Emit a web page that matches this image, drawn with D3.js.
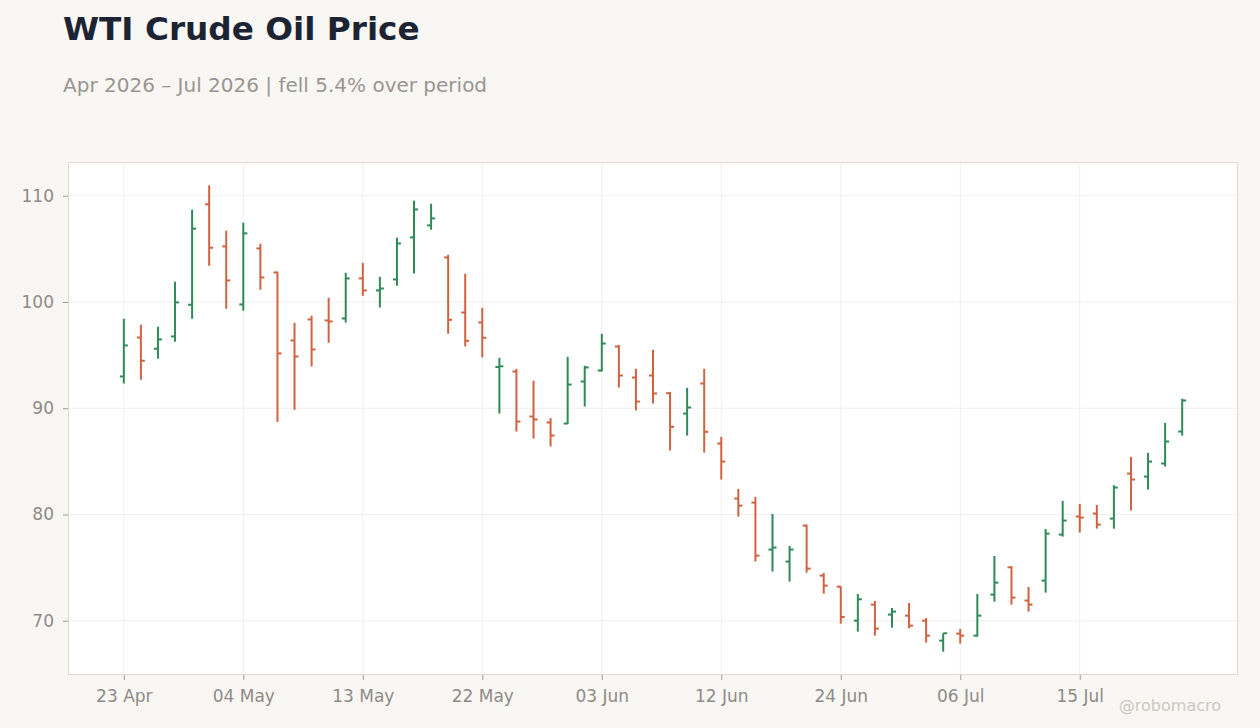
<!DOCTYPE html>
<html>
<head>
<meta charset="utf-8">
<script src="https://cdn.jsdelivr.net/npm/d3@7"></script>
<style>
  html, body { margin: 0; padding: 0; background: #f8f7f4; }
  svg { display: block; font-family: "DejaVu Sans", sans-serif; }
</style>
</head>
<body>
<svg id="chart" width="1260" height="728"></svg>
<script>
// ---- Data ----
const dates = [
  "2026-04-23","2026-04-24","2026-04-27","2026-04-28","2026-04-29","2026-04-30",
  "2026-05-01","2026-05-04","2026-05-05","2026-05-06","2026-05-07","2026-05-08",
  "2026-05-11","2026-05-12","2026-05-13","2026-05-14","2026-05-15","2026-05-18",
  "2026-05-19","2026-05-20","2026-05-21","2026-05-22","2026-05-26","2026-05-27",
  "2026-05-28","2026-05-29","2026-06-01","2026-06-02","2026-06-03","2026-06-04",
  "2026-06-05","2026-06-08","2026-06-09","2026-06-10","2026-06-11","2026-06-12",
  "2026-06-15","2026-06-16","2026-06-17","2026-06-18","2026-06-22","2026-06-23",
  "2026-06-24","2026-06-25","2026-06-26","2026-06-29","2026-06-30","2026-07-01",
  "2026-07-02","2026-07-06","2026-07-07","2026-07-08","2026-07-09","2026-07-10",
  "2026-07-13","2026-07-14","2026-07-15","2026-07-16","2026-07-17","2026-07-20",
  "2026-07-21","2026-07-22","2026-07-23"
];
const openVals = [
  92.99, 96.66, 95.60, 96.76, 99.74, 109.19, 105.23, 99.77, 105.04, 102.78,
  96.38, 98.36, 98.26, 98.45, 102.22, 101.09, 102.12, 106.08, 107.21, 104.19,
  99.01, 98.07, 93.88, 93.46, 89.22, 88.66, 88.56, 92.52, 93.55, 95.81,
  92.89, 93.08, 91.42, 89.50, 92.33, 86.68, 81.50, 81.12, 76.70, 75.57,
  78.96, 74.25, 73.21, 70.01, 71.52, 70.58, 70.48, 70.01, 68.13, 68.79,
  68.60, 72.46, 75.03, 71.90, 73.78, 78.11, 79.81, 80.09, 79.62, 83.85,
  83.57, 84.80, 87.81
];
const highVals = [
  98.42, 97.86, 97.67, 101.91, 108.69, 110.98, 106.71, 107.46, 105.48, 102.85,
  98.04, 98.70, 100.40, 102.75, 103.69, 102.37, 106.05, 109.53, 109.25, 104.44,
  102.66, 99.45, 94.75, 93.71, 92.58, 89.07, 94.84, 94.00, 97.01, 95.94,
  93.71, 95.50, 91.54, 91.92, 93.71, 87.31, 82.41, 81.66, 80.05, 77.04,
  79.05, 74.50, 73.24, 72.52, 71.86, 71.20, 71.68, 70.26, 68.82, 69.23,
  72.52, 76.10, 75.14, 73.18, 78.64, 81.28, 81.00, 80.90, 82.76, 85.42,
  85.80, 88.62, 90.89
];
const lowVals = [
  92.33, 92.68, 94.66, 96.26, 98.42, 103.41, 99.36, 99.17, 101.15, 88.72,
  89.85, 93.93, 96.16, 98.07, 100.58, 99.48, 101.53, 102.69, 106.80, 97.01,
  95.81, 94.78, 89.50, 87.81, 87.15, 86.40, 88.53, 90.16, 93.46, 91.95,
  89.79, 90.44, 86.02, 87.43, 85.83, 83.29, 79.80, 75.57, 74.63, 73.68,
  74.53, 72.55, 69.73, 68.98, 68.60, 69.35, 69.29, 67.94, 67.09, 67.85,
  68.51, 71.80, 71.52, 70.86, 72.65, 77.92, 78.30, 78.67, 78.67, 80.37,
  82.35, 84.51, 87.43
];
const closeVals = [
  95.91, 94.47, 96.48, 99.96, 106.90, 105.11, 102.03, 106.46, 102.31, 95.16,
  94.87, 95.53, 98.17, 102.22, 101.09, 101.27, 105.51, 108.71, 107.87, 98.32,
  96.35, 96.63, 93.95, 88.75, 88.94, 87.43, 92.23, 93.84, 96.09, 93.08,
  90.63, 91.39, 88.25, 90.07, 87.78, 84.98, 80.84, 76.13, 76.89, 76.70,
  74.91, 73.31, 70.36, 72.02, 69.26, 70.86, 69.54, 68.60, 68.82, 68.60,
  70.48, 73.59, 72.18, 71.52, 78.20, 79.43, 79.71, 79.05, 82.54, 83.29,
  84.98, 86.87, 90.73
];
const yTickValues = [70, 80, 90, 100, 110];
const xTickEvery = 7;

const titleText = "WTI Crude Oil Price";
const subtitleText = "Apr 2026 \u2013 Jul 2026 | fell 5.4% over period";
const creditText = "@robomacro";

// ---- Build rows ----
const parse = d3.timeParse("%Y-%m-%d");
const fmt = d3.timeFormat("%d %b");
const rows = dates.map((d, i) => ({
  date: d, o: openVals[i], h: highVals[i], l: lowVals[i], c: closeVals[i]
}));

// ---- Layout ----
const W = 1260, H = 728;
const plot = { left: 68, right: 1238, top: 162, bottom: 675 };
const upColor = "#2e8b57", downColor = "#d0623f";

const svg = d3.select("#chart");
svg.append("rect").attr("width", W).attr("height", H).attr("fill", "#f8f7f4");

const x = d3.scalePoint().domain(dates).range([plot.left, plot.right]).padding(3.27);
const lo = d3.min(lowVals), hi = d3.max(highVals), pad = (hi - lo) * 0.05;
const y = d3.scaleLinear().domain([lo - pad, hi + pad]).range([plot.bottom, plot.top]);

// plot background
svg.append("rect")
  .attr("x", plot.left).attr("y", plot.top)
  .attr("width", plot.right - plot.left).attr("height", plot.bottom - plot.top)
  .attr("fill", "#ffffff");

const xTicks = dates.filter((d, i) => i % xTickEvery === 0);

// grid
const grid = svg.append("g");
grid.selectAll("line.gy").data(yTickValues).join("line")
  .attr("x1", plot.left).attr("x2", plot.right)
  .attr("y1", d => y(d)).attr("y2", d => y(d))
  .attr("stroke", "#efefef").attr("stroke-width", 1);
grid.selectAll("line.gx").data(xTicks).join("line")
  .attr("x1", d => x(d)).attr("x2", d => x(d))
  .attr("y1", plot.top).attr("y2", plot.bottom)
  .attr("stroke", "#efefef").attr("stroke-width", 1);

// border
svg.append("rect")
  .attr("x", plot.left + 0.5).attr("y", plot.top + 0.5)
  .attr("width", plot.right - plot.left - 1).attr("height", plot.bottom - plot.top - 1)
  .attr("fill", "none").attr("stroke", "#dedad5");

// axes
const yAxis = d3.axisLeft(y).tickValues(yTickValues).tickSize(5).tickPadding(9);
const gy = svg.append("g").attr("transform", `translate(${plot.left},0)`).call(yAxis);
gy.select(".domain").remove();
gy.selectAll(".tick line").attr("stroke", "#a09b96");
gy.selectAll(".tick text").attr("fill", "#8f8a85").style("font-size", "17px")
  .style("font-family", "DejaVu Sans, sans-serif");

const xAxis = d3.axisBottom(x).tickValues(xTicks).tickFormat(d => fmt(parse(d))).tickSize(5).tickPadding(10);
const gx = svg.append("g").attr("transform", `translate(0,${plot.bottom})`).call(xAxis);
gx.select(".domain").remove();
gx.selectAll(".tick line").attr("stroke", "#a09b96");
gx.selectAll(".tick text").attr("fill", "#8f8a85").style("font-size", "17px")
  .style("font-family", "DejaVu Sans, sans-serif");

// OHLC bars
const bars = svg.append("g").selectAll("g").data(rows).join("g")
  .attr("stroke", d => d.c >= d.o ? upColor : downColor)
  .attr("stroke-width", 2);
bars.append("line")
  .attr("x1", d => x(d.date)).attr("x2", d => x(d.date))
  .attr("y1", d => y(d.h)).attr("y2", d => y(d.l));
bars.append("line")
  .attr("x1", d => x(d.date) - 4).attr("x2", d => x(d.date))
  .attr("y1", d => y(d.o)).attr("y2", d => y(d.o));
bars.append("line")
  .attr("x1", d => x(d.date)).attr("x2", d => x(d.date) + 4)
  .attr("y1", d => y(d.c)).attr("y2", d => y(d.c));

// titles
svg.append("text").attr("x", 63).attr("y", 40)
  .attr("fill", "#1c2434").style("font-size", "32.7px").style("font-weight", "bold")
  .text(titleText);
svg.append("text").attr("x", 63).attr("y", 92)
  .attr("fill", "#9a9590").style("font-size", "20px")
  .text(subtitleText);
svg.append("text").attr("x", 1221).attr("y", 711).attr("text-anchor", "end")
  .attr("fill", "#cdc8c2").style("font-size", "16px")
  .text(creditText);
</script>
</body>
</html>
